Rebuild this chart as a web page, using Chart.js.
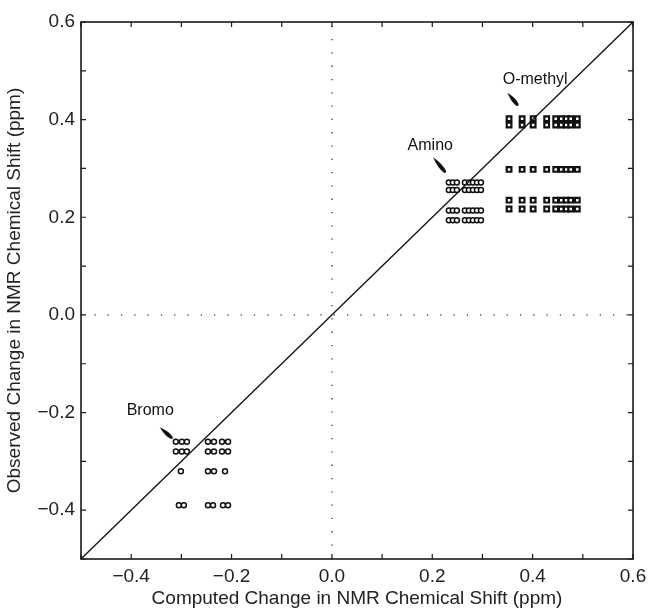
<!DOCTYPE html>
<html><head><meta charset="utf-8">
<script src="https://cdn.jsdelivr.net/npm/chart.js@4/dist/chart.umd.min.js"></script>
<style>html,body{margin:0;padding:0;background:#fff}#wrap{width:649px;height:610px}</style>
</head><body><div id="wrap"><canvas id="c" width="649" height="610"></canvas></div>
<script>
// ---- data ----
const xTickLabels = [-0.4, -0.2, 0.0, 0.2, 0.4, 0.6];
const yTickLabels = [-0.4, -0.2, 0.0, 0.2, 0.4, 0.6];
const tickMarks = [-0.5,-0.4,-0.3,-0.2,-0.1,0.0,0.1,0.2,0.3,0.4,0.5,0.6];

const bromoY = [-0.26, -0.28, -0.32, -0.39];
const bromoX = [
  [-0.311, -0.299, -0.289, -0.247, -0.235, -0.219, -0.207],
  [-0.311, -0.299, -0.289, -0.247, -0.235, -0.219, -0.207],
  [-0.301, -0.247, -0.235, -0.213],
  [-0.305, -0.295, -0.247, -0.237, -0.217, -0.207]
];
const aminoY = [0.271, 0.256, 0.214, 0.194];
const aminoX = [
  [0.233, 0.241, 0.249, 0.265, 0.273, 0.281, 0.289, 0.297],
  [0.233, 0.241, 0.249, 0.265, 0.273, 0.281, 0.289, 0.297],
  [0.233, 0.241, 0.249, 0.265, 0.273, 0.281, 0.289, 0.297],
  [0.233, 0.241, 0.249, 0.265, 0.273, 0.281, 0.289, 0.297]
];
const omethylY = [0.402, 0.389, 0.298, 0.235, 0.217];
const omethylX = [
  [0.353, 0.379, 0.401, 0.428, 0.446, 0.457, 0.467, 0.476, 0.489],
  [0.353, 0.379, 0.401, 0.428, 0.446, 0.457, 0.467, 0.476, 0.489],
  [0.353, 0.379, 0.401, 0.428, 0.446, 0.457, 0.467, 0.476, 0.489],
  [0.353, 0.379, 0.401, 0.428, 0.446, 0.457, 0.467, 0.476, 0.489],
  [0.353, 0.379, 0.401, 0.428, 0.446, 0.457, 0.467, 0.476, 0.489]
];
const identityLine = [-0.5, 0.6];
const labels = ["Bromo", "Amino", "O-methyl"];
const labelPos = [[-0.362, -0.195], [0.196, 0.346], [0.405, 0.482]];
const pointerFrom = [[-0.343, -0.230], [0.2015, 0.323], [0.350, 0.455]];
const pointerTo = [[-0.319, -0.252], [0.2254, 0.293], [0.370, 0.430]];

function pts(xs, ys) { const out = []; ys.forEach((y, i) => xs[i].forEach(x => out.push({x: x, y: y}))); return out; }
const FONT = "'Liberation Sans', Arial, Helvetica, sans-serif";
const fmt = v => (v < 0 ? "\u2212" : "") + Math.abs(v).toFixed(1);

const framePlugin = {
  id: 'frame',
  afterDraw(chart) {
    const {ctx, chartArea: a, scales: {x, y}} = chart;
    ctx.save();
    ctx.strokeStyle = '#1a1a1a'; ctx.lineWidth = 1.6;
    ctx.strokeRect(a.left, a.top, a.right - a.left, a.bottom - a.top);
    ctx.lineWidth = 1.2;
    ctx.beginPath();
    tickMarks.forEach(v => {
      const px = x.getPixelForValue(v), py = y.getPixelForValue(v);
      ctx.moveTo(px, a.bottom); ctx.lineTo(px, a.bottom - 5);
      ctx.moveTo(px, a.top); ctx.lineTo(px, a.top + 5);
      ctx.moveTo(a.left, py); ctx.lineTo(a.left + 5, py);
      ctx.moveTo(a.right, py); ctx.lineTo(a.right - 5, py);
    });
    ctx.stroke();
    // labels and pointers
    ctx.fillStyle = '#111';
    ctx.font = '16px ' + FONT;
    ctx.textAlign = 'center'; ctx.textBaseline = 'middle';
    labels.forEach((t, i) => {
      ctx.fillText(t, x.getPixelForValue(labelPos[i][0]), y.getPixelForValue(labelPos[i][1]));
      const x1 = x.getPixelForValue(pointerFrom[i][0]), y1 = y.getPixelForValue(pointerFrom[i][1]);
      const x2 = x.getPixelForValue(pointerTo[i][0]), y2 = y.getPixelForValue(pointerTo[i][1]);
      const ang = Math.atan2(y2 - y1, x2 - x1), len = Math.hypot(x2 - x1, y2 - y1);
      ctx.save(); ctx.translate(x1, y1); ctx.rotate(ang);
      ctx.beginPath();
      ctx.moveTo(0, 0);
      ctx.quadraticCurveTo(len * 0.6, -3.2, len, -1.4);
      ctx.quadraticCurveTo(len + 2, 0, len, 1.4);
      ctx.quadraticCurveTo(len * 0.6, 3.2, 0, 0);
      ctx.fill();
      ctx.restore();
    });
    ctx.restore();
  }
};

new Chart(document.getElementById('c'), {
  type: 'scatter',
  data: {
    datasets: [
      {data: [{x: 0, y: -0.5}, {x: 0, y: 0.6}], showLine: true, borderColor: '#333', borderWidth: 1.3, borderDash: [1.3, 12], pointRadius: 0},
      {data: [{x: -0.5, y: 0}, {x: 0.6, y: 0}], showLine: true, borderColor: '#333', borderWidth: 1.3, borderDash: [1.3, 12], pointRadius: 0},
      {data: identityLine.map(v => ({x: v, y: v})), showLine: true, borderColor: '#111', borderWidth: 1.3, pointRadius: 0},
      {data: pts(bromoX, bromoY), pointStyle: 'circle', pointRadius: 2.5, borderColor: '#111', backgroundColor: '#fff', borderWidth: 1.5},
      {data: pts(aminoX, aminoY), pointStyle: 'circle', pointRadius: 2.5, borderColor: '#111', backgroundColor: '#fff', borderWidth: 1.5},
      {data: pts(omethylX, omethylY), pointStyle: 'rect', pointRadius: 3.3, borderColor: '#111', backgroundColor: '#fff', borderWidth: 2.2}
    ]
  },
  options: {
    responsive: false, animation: false, devicePixelRatio: 1,
    layout: {padding: {top: 22, right: 16, left: 0, bottom: 0}},
    plugins: {legend: {display: false}, tooltip: {enabled: false}},
    scales: {
      x: {
        type: 'linear', min: -0.5, max: 0.6,
        afterBuildTicks: s => { s.ticks = xTickLabels.map(v => ({value: v})); },
        afterFit: s => { s.height = 51; s.paddingRight = 0; s.paddingLeft = 0; },
        grid: {display: false, drawTicks: false},
        border: {display: false},
        ticks: {callback: v => fmt(v), color: '#222', font: {family: FONT, size: 19}, padding: 6, maxRotation: 0},
        title: {display: true, text: 'Computed Change in NMR Chemical Shift (ppm)', color: '#222', font: {family: FONT, size: 19}, padding: {top: 0, bottom: 0}}
      },
      y: {
        type: 'linear', min: -0.5, max: 0.6,
        afterBuildTicks: s => { s.ticks = yTickLabels.map(v => ({value: v})); },
        afterFit: s => { s.width = 81; s.paddingTop = 0; s.paddingBottom = 0; },
        grid: {display: false, drawTicks: false},
        border: {display: false},
        ticks: {callback: v => fmt(v), color: '#222', font: {family: FONT, size: 19}, padding: 6},
        title: {display: true, text: 'Observed Change in NMR Chemical Shift (ppm)', color: '#222', font: {family: FONT, size: 19}, padding: {top: 3, bottom: 2}}
      }
    }
  },
  plugins: [framePlugin]
});
</script></body></html>
